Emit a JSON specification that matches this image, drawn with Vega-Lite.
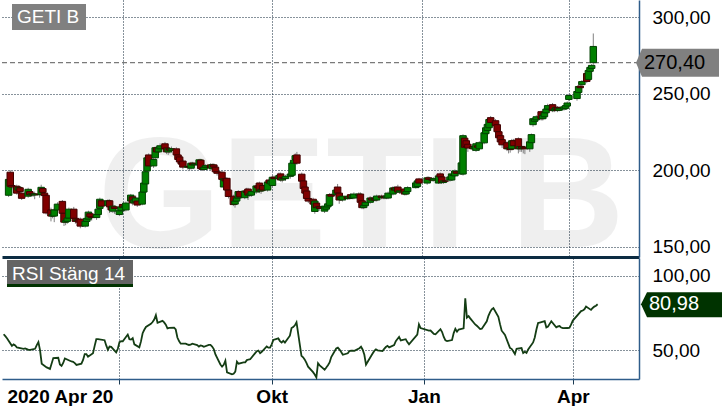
{
"padding": 0,
"background": "white",
"config": {"view": {"stroke": null}, "font": "Liberation Sans"},
"datasets": {"px": [
{"d":"2020-04-22","o":183.6,"h":195.5,"l":182.5,"c":194,"r":60.8},
{"d":"2020-04-23","o":198.7,"h":200,"l":188.5,"c":189.5,"r":59.5},
{"d":"2020-04-24","o":190,"h":191.5,"l":187.5,"c":189,"r":58.1},
{"d":"2020-04-27","o":189.5,"h":190.5,"l":184,"c":185,"r":53},
{"d":"2020-04-28","o":187,"h":190,"l":185.5,"c":188.8,"r":54},
{"d":"2020-04-29","o":188.5,"h":189.5,"l":185,"c":186,"r":53.3},
{"d":"2020-04-30","o":185,"h":186,"l":180.5,"c":181.6,"r":51.9},
{"d":"2020-05-04","o":183,"h":188.5,"l":182,"c":187.5,"r":51},
{"d":"2020-05-05","o":186,"h":187,"l":183,"c":184,"r":51.3},
{"d":"2020-05-06","o":184,"h":186.5,"l":183,"c":184.6,"r":50.8},
{"d":"2020-05-07","o":184.6,"h":185.5,"l":182.5,"c":183.8,"r":50.3},
{"d":"2020-05-08","o":183.8,"h":186,"l":181,"c":184.4,"r":50.3},
{"d":"2020-05-11","o":184.4,"h":185.5,"l":182,"c":184,"r":51},
{"d":"2020-05-12","o":184,"h":190.5,"l":183,"c":188.8,"r":53.5},
{"d":"2020-05-13","o":188,"h":189,"l":184.5,"c":185.5,"r":55.5},
{"d":"2020-05-14","o":185,"h":186,"l":182.5,"c":183.5,"r":50},
{"d":"2020-05-15","o":183.6,"h":184.5,"l":171,"c":172,"r":41},
{"d":"2020-05-18","o":174,"h":175.5,"l":166.5,"c":170,"r":38.5},
{"d":"2020-05-19","o":170,"h":172,"l":168.5,"c":171,"r":38},
{"d":"2020-05-20","o":170,"h":175,"l":166,"c":174,"r":37.4},
{"d":"2020-05-22","o":174,"h":179,"l":173,"c":177.8,"r":44.8},
{"d":"2020-05-25","o":179.6,"h":180.5,"l":171,"c":171.8,"r":45},
{"d":"2020-05-26","o":171.8,"h":172.5,"l":163.5,"c":166,"r":40.5},
{"d":"2020-05-27","o":166,"h":168,"l":164,"c":167,"r":39.5},
{"d":"2020-05-28","o":166.5,"h":170,"l":165,"c":168.7,"r":41.5},
{"d":"2020-05-29","o":168.7,"h":175.5,"l":167.5,"c":174.5,"r":44.5},
{"d":"2020-06-01","o":174.5,"h":176,"l":167.5,"c":168.5,"r":43},
{"d":"2020-06-02","o":168.5,"h":169.5,"l":165,"c":166.5,"r":42.5},
{"d":"2020-06-03","o":167,"h":168.5,"l":166,"c":167.5,"r":42.3},
{"d":"2020-06-04","o":167.5,"h":168.5,"l":163.5,"c":166,"r":41.4},
{"d":"2020-06-05","o":168,"h":169,"l":162,"c":163.4,"r":40.2},
{"d":"2020-06-08","o":163.4,"h":167.5,"l":162.5,"c":166.5,"r":41},
{"d":"2020-06-09","o":166.5,"h":169.5,"l":165.5,"c":168.5,"r":43.5},
{"d":"2020-06-10","o":168,"h":173.5,"l":167,"c":172.6,"r":47.5},
{"d":"2020-06-11","o":171.5,"h":172.5,"l":167.5,"c":169.5,"r":47.5},
{"d":"2020-06-12","o":169.5,"h":170.5,"l":167,"c":169,"r":45.7},
{"d":"2020-06-15","o":169,"h":172,"l":167.5,"c":171,"r":48},
{"d":"2020-06-16","o":171,"h":175.5,"l":170,"c":174.5,"r":53},
{"d":"2020-06-17","o":175,"h":182,"l":174,"c":181,"r":57.5},
{"d":"2020-06-18","o":180,"h":181,"l":175.5,"c":176.5,"r":57.5},
{"d":"2020-06-22","o":177,"h":181,"l":176,"c":180,"r":56.8},
{"d":"2020-06-23","o":180,"h":181,"l":172,"c":176,"r":53.3},
{"d":"2020-06-24","o":176,"h":177,"l":172.5,"c":174,"r":50.4},
{"d":"2020-06-25","o":173.2,"h":177.5,"l":172,"c":176.5,"r":52.5},
{"d":"2020-06-26","o":176,"h":177,"l":171.5,"c":175,"r":52.3},
{"d":"2020-06-29","o":171,"h":174.5,"l":170,"c":173.5,"r":48.6},
{"d":"2020-06-30","o":173.5,"h":177,"l":172.5,"c":176,"r":51},
{"d":"2020-07-01","o":177.6,"h":178.5,"l":174.5,"c":175.8,"r":55.5},
{"d":"2020-07-02","o":175.8,"h":177.5,"l":173,"c":176.5,"r":56.1},
{"d":"2020-07-03","o":174,"h":179.5,"l":173,"c":178.5,"r":56},
{"d":"2020-07-06","o":179.8,"h":184.5,"l":179,"c":183.7,"r":60.6},
{"d":"2020-07-07","o":182.6,"h":183.5,"l":177,"c":178.6,"r":57.5},
{"d":"2020-07-08","o":178.6,"h":181.5,"l":177.5,"c":180.5,"r":57.2},
{"d":"2020-07-09","o":179.2,"h":183.5,"l":178.5,"c":181.8,"r":58.2},
{"d":"2020-07-10","o":179.8,"h":180.5,"l":176,"c":177.2,"r":54},
{"d":"2020-07-13","o":177.8,"h":186.5,"l":177,"c":185.7,"r":52},
{"d":"2020-07-14","o":185.7,"h":192.5,"l":185,"c":191.6,"r":56},
{"d":"2020-07-15","o":191,"h":200,"l":190,"c":199,"r":61.5},
{"d":"2020-07-16","o":199.5,"h":209,"l":198.5,"c":208.1,"r":63.8},
{"d":"2020-07-17","o":210,"h":211,"l":202,"c":202.8,"r":65.7},
{"d":"2020-07-20","o":202.8,"h":208,"l":201.5,"c":207,"r":67.8},
{"d":"2020-07-21","o":208.1,"h":215.5,"l":207,"c":214.7,"r":69},
{"d":"2020-07-22","o":214.7,"h":216,"l":211,"c":212,"r":70.7},
{"d":"2020-07-23","o":212,"h":216,"l":211,"c":214.7,"r":73.6},
{"d":"2020-07-24","o":214,"h":217.5,"l":213,"c":216,"r":68.5},
{"d":"2020-07-27","o":217.3,"h":218.5,"l":212,"c":214,"r":69.8},
{"d":"2020-07-28","o":214.6,"h":215.5,"l":210.5,"c":212,"r":68.8},
{"d":"2020-07-29","o":212,"h":215,"l":210,"c":214,"r":67.2},
{"d":"2020-07-30","o":214,"h":215,"l":211,"c":213,"r":64.8},
{"d":"2020-07-31","o":213,"h":215.5,"l":211.5,"c":214,"r":65.1},
{"d":"2020-08-03","o":214,"h":215,"l":209,"c":210,"r":65.3},
{"d":"2020-08-04","o":210,"h":211,"l":205,"c":207,"r":64},
{"d":"2020-08-05","o":208.7,"h":209.5,"l":204.5,"c":205.4,"r":58.6},
{"d":"2020-08-06","o":205.4,"h":206.5,"l":202.5,"c":204,"r":56.2},
{"d":"2020-08-07","o":206,"h":207,"l":200.5,"c":202,"r":54.5},
{"d":"2020-08-10","o":202,"h":204,"l":200.5,"c":202.5,"r":54.5},
{"d":"2020-08-11","o":202.5,"h":203.5,"l":200,"c":202,"r":54},
{"d":"2020-08-12","o":201.3,"h":205.5,"l":200.5,"c":204.6,"r":53.6},
{"d":"2020-08-13","o":204.6,"h":205.5,"l":202,"c":203.5,"r":53.8},
{"d":"2020-08-14","o":203.5,"h":205,"l":202,"c":204,"r":54.5},
{"d":"2020-08-17","o":203.5,"h":207.5,"l":202.5,"c":206.8,"r":53.5},
{"d":"2020-08-18","o":206.6,"h":207.5,"l":200,"c":201,"r":52.5},
{"d":"2020-08-19","o":201.5,"h":202.5,"l":199.5,"c":200.5,"r":53.3},
{"d":"2020-08-20","o":200.5,"h":203,"l":199.5,"c":202,"r":53},
{"d":"2020-08-21","o":202,"h":204,"l":200.5,"c":203,"r":52.4},
{"d":"2020-08-24","o":203.5,"h":204.5,"l":200.5,"c":201.5,"r":53.6},
{"d":"2020-08-25","o":200.9,"h":204.5,"l":200,"c":203.5,"r":53.6},
{"d":"2020-08-26","o":203.5,"h":204.5,"l":201,"c":202,"r":52.5},
{"d":"2020-08-27","o":202,"h":203,"l":198,"c":199,"r":50.8},
{"d":"2020-08-28","o":199,"h":200,"l":196.5,"c":198,"r":47.2},
{"d":"2020-08-31","o":198.7,"h":199.5,"l":193,"c":194,"r":40.5},
{"d":"2020-09-01","o":189,"h":195,"l":187.5,"c":194.3,"r":39},
{"d":"2020-09-02","o":194.3,"h":195.5,"l":192,"c":193,"r":40.3},
{"d":"2020-09-03","o":194.7,"h":195.5,"l":186,"c":187,"r":43},
{"d":"2020-09-04","o":187,"h":188,"l":181.5,"c":182.8,"r":35.2},
{"d":"2020-09-07","o":183,"h":184,"l":176.5,"c":177.5,"r":33.9},
{"d":"2020-09-08","o":177.8,"h":180.5,"l":175.5,"c":179.8,"r":34.2},
{"d":"2020-09-09","o":179.8,"h":183,"l":178.5,"c":181.8,"r":35.7},
{"d":"2020-09-10","o":181.8,"h":187,"l":181,"c":186,"r":42.4},
{"d":"2020-09-11","o":186,"h":186.5,"l":181,"c":182.5,"r":41},
{"d":"2020-09-14","o":182,"h":187.5,"l":181,"c":186.4,"r":41.9},
{"d":"2020-09-15","o":186.4,"h":188.5,"l":184.5,"c":185.5,"r":41.9},
{"d":"2020-09-16","o":187.7,"h":188.5,"l":180.5,"c":183.7,"r":43.4},
{"d":"2020-09-17","o":183.7,"h":185.5,"l":182.5,"c":184.5,"r":43.8},
{"d":"2020-09-18","o":183.7,"h":187,"l":182.5,"c":186,"r":44},
{"d":"2020-09-21","o":185.7,"h":190.5,"l":184.5,"c":189.7,"r":48.1},
{"d":"2020-09-22","o":189.7,"h":192,"l":187.5,"c":188.5,"r":49.4},
{"d":"2020-09-23","o":191.6,"h":192.5,"l":185,"c":186.4,"r":49.8},
{"d":"2020-09-24","o":186.4,"h":188.5,"l":184.5,"c":187.5,"r":48.1},
{"d":"2020-09-25","o":190,"h":191,"l":186,"c":187,"r":49},
{"d":"2020-09-28","o":187,"h":193.5,"l":186,"c":192.3,"r":52.6},
{"d":"2020-09-29","o":193.6,"h":194.5,"l":190.5,"c":191.6,"r":51.8},
{"d":"2020-09-30","o":191,"h":194,"l":190,"c":193,"r":51.8},
{"d":"2020-10-01","o":190,"h":197,"l":189,"c":195.4,"r":54},
{"d":"2020-10-02","o":195.4,"h":196.5,"l":193.5,"c":194.5,"r":57},
{"d":"2020-10-05","o":194.5,"h":198.5,"l":193.5,"c":196.5,"r":58},
{"d":"2020-10-06","o":197.6,"h":198.5,"l":192.5,"c":193.6,"r":56.2},
{"d":"2020-10-07","o":193.6,"h":196,"l":192,"c":195,"r":55.2},
{"d":"2020-10-08","o":195,"h":196.5,"l":193.5,"c":194.5,"r":56.4},
{"d":"2020-10-09","o":194.5,"h":197,"l":193,"c":196,"r":55.2},
{"d":"2020-10-12","o":196,"h":198.5,"l":194.5,"c":197.5,"r":59.8},
{"d":"2020-10-13","o":196.7,"h":205.5,"l":195.5,"c":204.6,"r":65},
{"d":"2020-10-14","o":204.6,"h":208,"l":203.5,"c":206.5,"r":65.6},
{"d":"2020-10-15","o":207,"h":211,"l":206,"c":209.5,"r":66.8},
{"d":"2020-10-16","o":210,"h":212,"l":203.5,"c":204.6,"r":68.8},
{"d":"2020-10-19","o":197.4,"h":198.5,"l":191.5,"c":192.8,"r":46.3},
{"d":"2020-10-20","o":193,"h":194,"l":187,"c":188,"r":45.3},
{"d":"2020-10-21","o":189,"h":190,"l":183.5,"c":185,"r":43.7},
{"d":"2020-10-22","o":186.4,"h":187.5,"l":180.5,"c":181.5,"r":41.5},
{"d":"2020-10-23","o":181.5,"h":182.5,"l":178.5,"c":179.8,"r":39},
{"d":"2020-10-26","o":181,"h":182,"l":176,"c":177.8,"r":35.3},
{"d":"2020-10-27","o":173,"h":180.5,"l":171.5,"c":179.8,"r":33.7},
{"d":"2020-10-28","o":178.5,"h":179.5,"l":174,"c":175.5,"r":31.8},
{"d":"2020-10-29","o":175.5,"h":177,"l":173,"c":176,"r":41.3},
{"d":"2020-10-30","o":176,"h":177,"l":173.5,"c":175,"r":39.9},
{"d":"2020-11-02","o":173.2,"h":177.5,"l":172,"c":176.5,"r":37},
{"d":"2020-11-03","o":174.5,"h":177,"l":173.5,"c":176,"r":38.4},
{"d":"2020-11-04","o":176,"h":179,"l":175,"c":178,"r":39.9},
{"d":"2020-11-05","o":177,"h":185,"l":176,"c":184,"r":41.8},
{"d":"2020-11-06","o":184,"h":185,"l":182,"c":183,"r":45.5},
{"d":"2020-11-09","o":184,"h":188,"l":183,"c":187,"r":51.2},
{"d":"2020-11-10","o":189,"h":191,"l":184,"c":185,"r":51.8},
{"d":"2020-11-11","o":185,"h":186,"l":178,"c":180.5,"r":50.5},
{"d":"2020-11-12","o":181,"h":183.5,"l":180,"c":182.5,"r":48.9},
{"d":"2020-11-13","o":180.5,"h":184,"l":179.5,"c":183,"r":47},
{"d":"2020-11-16","o":182.5,"h":183.5,"l":180.5,"c":181.5,"r":48},
{"d":"2020-11-17","o":181.5,"h":184,"l":180.5,"c":183,"r":49.5},
{"d":"2020-11-18","o":184,"h":185,"l":181,"c":182,"r":49.8},
{"d":"2020-11-19","o":182,"h":184.5,"l":181,"c":183.5,"r":49.7},
{"d":"2020-11-20","o":181.8,"h":185.5,"l":181,"c":184.4,"r":49.6},
{"d":"2020-11-23","o":183.5,"h":185.5,"l":182.5,"c":184.4,"r":51.4},
{"d":"2020-11-24","o":184.4,"h":185.5,"l":178,"c":179,"r":52.4},
{"d":"2020-11-25","o":180,"h":181,"l":174.5,"c":175.5,"r":50.4},
{"d":"2020-11-26","o":175.5,"h":178,"l":174.5,"c":177,"r":47},
{"d":"2020-11-27","o":176.8,"h":180,"l":175.5,"c":179,"r":40.4},
{"d":"2020-11-30","o":179,"h":183,"l":178,"c":181.8,"r":46},
{"d":"2020-12-01","o":181.8,"h":182.5,"l":179.5,"c":180.5,"r":47.8},
{"d":"2020-12-02","o":180.5,"h":182.5,"l":179.5,"c":181.5,"r":49.6},
{"d":"2020-12-03","o":181.5,"h":182.5,"l":179.5,"c":180.5,"r":50.6},
{"d":"2020-12-04","o":180.5,"h":184,"l":179.5,"c":183.1,"r":50},
{"d":"2020-12-07","o":183.1,"h":184,"l":181,"c":182,"r":49.5},
{"d":"2020-12-08","o":182,"h":183.5,"l":181,"c":182.8,"r":51},
{"d":"2020-12-09","o":182.8,"h":183.5,"l":181,"c":182,"r":52.2},
{"d":"2020-12-10","o":182,"h":184,"l":181,"c":183,"r":53},
{"d":"2020-12-11","o":181.8,"h":186,"l":181,"c":185,"r":52},
{"d":"2020-12-14","o":184.4,"h":189.5,"l":183.5,"c":188.4,"r":53.5},
{"d":"2020-12-15","o":188.4,"h":189.5,"l":186,"c":187,"r":56.2},
{"d":"2020-12-16","o":187,"h":189.5,"l":186,"c":188.5,"r":57.6},
{"d":"2020-12-17","o":189,"h":190.5,"l":185,"c":185.7,"r":59},
{"d":"2020-12-18","o":185.7,"h":187.5,"l":184.5,"c":186.5,"r":56.7},
{"d":"2020-12-21","o":187.7,"h":188.5,"l":183.5,"c":184.4,"r":57.5},
{"d":"2020-12-22","o":184.4,"h":187,"l":183.5,"c":186,"r":55.5},
{"d":"2020-12-23","o":186,"h":189.5,"l":185,"c":188.6,"r":54},
{"d":"2020-12-28","o":188.6,"h":192.5,"l":188,"c":191.7,"r":60.5},
{"d":"2020-12-29","o":189.3,"h":194,"l":188.5,"c":193,"r":67.5},
{"d":"2020-12-30","o":194.3,"h":195,"l":190.5,"c":191.6,"r":65},
{"d":"2021-01-04","o":191.6,"h":196,"l":190.5,"c":195,"r":63.2},
{"d":"2021-01-05","o":195,"h":196,"l":193,"c":194,"r":63.3},
{"d":"2021-01-07","o":194,"h":195,"l":192.5,"c":193.5,"r":61},
{"d":"2021-01-08","o":193.5,"h":195.5,"l":192.5,"c":194.5,"r":60.8},
{"d":"2021-01-11","o":191.6,"h":197,"l":191,"c":196.3,"r":64.2},
{"d":"2021-01-12","o":197.6,"h":198.5,"l":194.5,"c":195.6,"r":62.3},
{"d":"2021-01-13","o":195.6,"h":196.5,"l":191,"c":192,"r":59},
{"d":"2021-01-14","o":192,"h":194,"l":191,"c":193,"r":56.7},
{"d":"2021-01-15","o":193,"h":194,"l":191.5,"c":192.8,"r":56.2},
{"d":"2021-01-18","o":193.6,"h":196.5,"l":192.5,"c":195.6,"r":56.9},
{"d":"2021-01-19","o":193.6,"h":198.5,"l":193,"c":197.6,"r":61.6},
{"d":"2021-01-20","o":196.5,"h":198,"l":195.5,"c":197,"r":64.4},
{"d":"2021-01-21","o":196.3,"h":200.5,"l":195.5,"c":199.5,"r":62.5},
{"d":"2021-01-22","o":199,"h":200,"l":197,"c":198,"r":64},
{"d":"2021-01-25","o":197.6,"h":205.5,"l":197,"c":204.8,"r":64.8},
{"d":"2021-01-26","o":197.5,"h":223.5,"l":196.5,"c":222.6,"r":85},
{"d":"2021-01-27","o":221,"h":222,"l":213.5,"c":215,"r":72},
{"d":"2021-01-28","o":219.3,"h":220.5,"l":214,"c":215.5,"r":73},
{"d":"2021-01-29","o":217,"h":218,"l":212,"c":214.5,"r":71.5},
{"d":"2021-02-01","o":215.5,"h":216.5,"l":212.5,"c":214,"r":67.4},
{"d":"2021-02-02","o":214,"h":216.5,"l":213,"c":215.3,"r":66.5},
{"d":"2021-02-03","o":213,"h":218.5,"l":212,"c":217.3,"r":65.5},
{"d":"2021-02-04","o":216,"h":217,"l":213.5,"c":215,"r":64.3},
{"d":"2021-02-05","o":214,"h":219,"l":213,"c":218,"r":64.5},
{"d":"2021-02-08","o":217.9,"h":225.5,"l":217,"c":224.5,"r":69.5},
{"d":"2021-02-09","o":223.9,"h":228.5,"l":223,"c":227.8,"r":73.2},
{"d":"2021-02-10","o":226,"h":231,"l":225,"c":230,"r":75.7},
{"d":"2021-02-11","o":227.8,"h":234,"l":227,"c":233.2,"r":77.6},
{"d":"2021-02-12","o":234.4,"h":235.5,"l":230.5,"c":231.2,"r":78.4},
{"d":"2021-02-15","o":232.4,"h":233.5,"l":228,"c":229.1,"r":72.5},
{"d":"2021-02-16","o":229.8,"h":230.5,"l":224,"c":225.2,"r":67.6},
{"d":"2021-02-17","o":225.2,"h":226,"l":220,"c":221.2,"r":63.2},
{"d":"2021-02-18","o":222.6,"h":223.5,"l":217.5,"c":218.5,"r":61.8},
{"d":"2021-02-19","o":220,"h":221,"l":214.5,"c":216.6,"r":60.3},
{"d":"2021-02-22","o":218,"h":219,"l":212.5,"c":214,"r":51.6},
{"d":"2021-02-23","o":214,"h":216,"l":211,"c":214.5,"r":51},
{"d":"2021-02-24","o":214.5,"h":215.5,"l":211.5,"c":213.5,"r":49.3},
{"d":"2021-02-25","o":214,"h":220.5,"l":213,"c":219.3,"r":47.5},
{"d":"2021-02-26","o":219.3,"h":220.5,"l":214,"c":216,"r":51},
{"d":"2021-03-01","o":220.6,"h":221.5,"l":211,"c":214,"r":51.5},
{"d":"2021-03-02","o":214,"h":216.5,"l":212,"c":215.5,"r":48.2},
{"d":"2021-03-03","o":215.5,"h":216.5,"l":212,"c":214.2,"r":49},
{"d":"2021-03-04","o":214.2,"h":216,"l":211,"c":215,"r":48.3},
{"d":"2021-03-05","o":215,"h":216,"l":210.5,"c":214,"r":50.6},
{"d":"2021-03-08","o":214,"h":219.5,"l":212,"c":218.6,"r":55.3},
{"d":"2021-03-09","o":218,"h":224,"l":217,"c":223.3,"r":58.6},
{"d":"2021-03-10","o":229.8,"h":234.5,"l":228.5,"c":233.7,"r":64},
{"d":"2021-03-11","o":232,"h":235,"l":231,"c":233.5,"r":68.4},
{"d":"2021-03-12","o":233,"h":236,"l":232,"c":235,"r":68.7},
{"d":"2021-03-15","o":238.3,"h":239,"l":232.5,"c":233.7,"r":69.6},
{"d":"2021-03-16","o":233.7,"h":237,"l":232.5,"c":236,"r":65.4},
{"d":"2021-03-17","o":235,"h":238.5,"l":234,"c":237.6,"r":66},
{"d":"2021-03-18","o":237.6,"h":241,"l":236.5,"c":240,"r":67.8},
{"d":"2021-03-19","o":240,"h":243.5,"l":239,"c":242.3,"r":69.6},
{"d":"2021-03-22","o":242.9,"h":244,"l":238,"c":239,"r":65.5},
{"d":"2021-03-23","o":239,"h":241,"l":238,"c":240,"r":66.1},
{"d":"2021-03-24","o":240,"h":242,"l":239,"c":241,"r":66.3},
{"d":"2021-03-25","o":241.2,"h":242,"l":238,"c":239.2,"r":65.3},
{"d":"2021-03-26","o":239.2,"h":241.5,"l":238.5,"c":240.5,"r":64.9},
{"d":"2021-03-29","o":240,"h":242.5,"l":239,"c":241.5,"r":65},
{"d":"2021-03-30","o":240.5,"h":243.5,"l":239.5,"c":242.3,"r":65.2},
{"d":"2021-03-31","o":242,"h":245,"l":241,"c":244,"r":67.4},
{"d":"2021-04-01","o":246.3,"h":250,"l":245,"c":248.9,"r":70},
{"d":"2021-04-06","o":246.9,"h":253,"l":245.5,"c":251.5,"r":76.4},
{"d":"2021-04-07","o":250.9,"h":256,"l":250,"c":254.8,"r":76.8},
{"d":"2021-04-08","o":255,"h":256,"l":253,"c":254,"r":77.6},
{"d":"2021-04-09","o":256,"h":259,"l":255,"c":258,"r":79.4},
{"d":"2021-04-12","o":263.3,"h":264,"l":257,"c":258.1,"r":77.2},
{"d":"2021-04-13","o":259.4,"h":266,"l":258.5,"c":265.3,"r":78.5},
{"d":"2021-04-14","o":264.7,"h":268.5,"l":263.5,"c":267.3,"r":79.4},
{"d":"2021-04-15","o":266.6,"h":269.5,"l":265.5,"c":268.6,"r":80},
{"d":"2021-04-16","o":270.4,"h":289.5,"l":269,"c":281,"r":80.98}
]},
"spacing": 1,
"bounds": "flush",
"resolve": {"scale": {"y": "independent"}},
"vconcat": [
{
"width": 637, "height": 257,
"layer": [
{
"data": {"values": [{}]},
"mark": {"type": "text", "text": "GETI B", "fontSize": 158, "fontWeight": "bold", "fill": "#000000", "opacity": 0.06, "align": "center", "baseline": "alphabetic"},
"encoding": {
"x": {"datum": {"year": 2020, "month": 11, "date": 24, "hours": 14}, "type": "temporal",
"scale": {"domain": [{"year": 2020, "month": 4, "date": 21}, {"year": 2021, "month": 5, "date": 11}]},
"axis": {"title": null, "values": [{"year": 2020, "month": 7, "date": 1}, {"year": 2020, "month": 10, "date": 1}, {"year": 2021, "month": 1, "date": 1}, {"year": 2021, "month": 4, "date": 1}],
"grid": true, "gridColor": "#0f2536", "gridDash": [1, 2], "gridWidth": 1, "labels": false, "ticks": false, "domain": true, "domainColor": "#0c2c42", "domainWidth": 3}},
"y": {"datum": 149.7, "type": "quantitative",
"scale": {"domain": [143.2, 311.4], "nice": false, "zero": false},
"axis": {"title": null, "orient": "right", "values": [150, 200, 250, 300], "labelExpr": "replace(format(datum.value, '.2f'), '.', ',')",
"grid": true, "gridColor": "#0f2536", "gridDash": [1, 2], "ticks": false, "tickSize": 0, "labelPadding": 13, "labelFontSize": 19, "labelColor": "#000000", "domainColor": "#2f5d8a", "domainWidth": 1.5}}
}
},
{
"data": {"values": [{}]},
"mark": {"type": "rule", "color": "#7a7a7a", "strokeDash": [5, 3], "strokeWidth": 1.2},
"encoding": {"y": {"datum": 270.4, "type": "quantitative"}}
},
{
"data": {"name": "px"},
"mark": {"type": "rule", "color": "#808080", "strokeWidth": 1, "clip": true},
"encoding": {
"x": {"field": "d", "type": "temporal"},
"y": {"field": "l", "type": "quantitative"},
"y2": {"field": "h"}
}
},
{
"data": {"name": "px"},
"mark": {"type": "bar", "width": 6.5, "strokeWidth": 1, "clip": true},
"encoding": {
"x": {"field": "d", "type": "temporal"},
"y": {"field": "o", "type": "quantitative"},
"y2": {"field": "c"},
"fill": {"condition": {"test": "datum.c >= datum.o", "value": "#008000"}, "value": "#800000"},
"stroke": {"condition": {"test": "datum.c >= datum.o", "value": "#004000"}, "value": "#400000"}
}
},
{
"data": {"values": [{}]},
"mark": {"type": "point", "shape": "M5,4 H79 V30 H5 Z", "size": 4, "filled": true, "fill": "#808080", "opacity": 1, "strokeWidth": 0},
"encoding": {"x": {"datum": {"year": 2020, "month": 4, "date": 21}, "type": "temporal"}, "y": {"datum": 311.4, "type": "quantitative"}}
},
{
"data": {"values": [{}]},
"mark": {"type": "text", "text": "GETI B", "fontSize": 19, "fill": "#ffffff", "align": "left", "baseline": "alphabetic", "dx": 10, "dy": 23},
"encoding": {"x": {"datum": {"year": 2020, "month": 4, "date": 21}, "type": "temporal"}, "y": {"datum": 311.4, "type": "quantitative"}}
},
{
"data": {"values": [{}]},
"mark": {"type": "point", "shape": "M2,0 L8,-14 L85,-14 L85,14 L8,14 Z", "size": 4, "filled": true, "fill": "#808080", "opacity": 1, "strokeWidth": 0},
"encoding": {"x": {"datum": {"year": 2021, "month": 5, "date": 11}, "type": "temporal"}, "y": {"datum": 270.4, "type": "quantitative"}}
},
{
"data": {"values": [{}]},
"mark": {"type": "text", "text": "270,40", "fontSize": 20, "fill": "#000000", "align": "left", "baseline": "middle", "dx": 10},
"encoding": {"x": {"datum": {"year": 2021, "month": 5, "date": 11}, "type": "temporal"}, "y": {"datum": 270.4, "type": "quantitative"}}
}
]
},
{
"width": 637, "height": 121,
"layer": [
{
"data": {"name": "px"},
"mark": {"type": "line", "color": "#143d14", "strokeWidth": 1.8},
"encoding": {
"x": {"field": "d", "type": "temporal",
"scale": {"domain": [{"year": 2020, "month": 4, "date": 21}, {"year": 2021, "month": 5, "date": 11}]},
"axis": {"title": null, "values": [{"year": 2020, "month": 4, "date": 24}, {"year": 2020, "month": 7, "date": 1}, {"year": 2020, "month": 10, "date": 1}, {"year": 2021, "month": 1, "date": 1}, {"year": 2021, "month": 4, "date": 1}],
"labelExpr": "(year(datum.value) == 2020 && month(datum.value) == 3) ? '2020 Apr 20' : month(datum.value) == 6 ? '' : month(datum.value) == 9 ? 'Okt' : month(datum.value) == 0 ? 'Jan' : 'Apr'",
"grid": true, "gridColor": "#0f2536", "gridDash": [1, 2],
"gridOpacity": {"condition": {"test": "year(datum.value) == 2020 && month(datum.value) == 3", "value": 0}, "value": 1},
"tickOpacity": {"condition": {"test": "year(datum.value) == 2020 && month(datum.value) == 3", "value": 0}, "value": 1},
"ticks": true, "tickColor": "#1b3a52", "tickSize": 5, "domainColor": "#2f5d8a", "domainWidth": 1.5,
"labelFontSize": 19, "labelFontWeight": "bold", "labelColor": "#000000", "labelFlush": 10, "labelOverlap": false, "labelPadding": 3}},
"y": {"field": "r", "type": "quantitative",
"scale": {"domain": [30.7, 112.1], "nice": false, "zero": false},
"axis": {"title": null, "orient": "right", "values": [50, 100], "labelExpr": "replace(format(datum.value, '.2f'), '.', ',')",
"grid": true, "gridColor": "#0f2536", "gridDash": [1, 2], "ticks": false, "tickSize": 0, "labelPadding": 13, "labelFontSize": 19, "labelColor": "#000000", "domainColor": "#2f5d8a", "domainWidth": 1.5}}
}
},
{
"data": {"values": [{}]},
"mark": {"type": "point", "shape": "M5,2 H131 V26 H5 Z", "size": 4, "filled": true, "fill": "#646464", "opacity": 1, "strokeWidth": 0},
"encoding": {"x": {"datum": {"year": 2020, "month": 4, "date": 21}, "type": "temporal"}, "y": {"datum": 112.1, "type": "quantitative"}}
},
{
"data": {"values": [{}]},
"mark": {"type": "point", "shape": "M5,26 H131 V29 H5 Z", "size": 4, "filled": true, "fill": "#003300", "opacity": 1, "strokeWidth": 0},
"encoding": {"x": {"datum": {"year": 2020, "month": 4, "date": 21}, "type": "temporal"}, "y": {"datum": 112.1, "type": "quantitative"}}
},
{
"data": {"values": [{}]},
"mark": {"type": "text", "text": "RSI Stäng 14", "fontSize": 19, "fill": "#ffffff", "align": "left", "baseline": "alphabetic", "dx": 10, "dy": 22},
"encoding": {"x": {"datum": {"year": 2020, "month": 4, "date": 21}, "type": "temporal"}, "y": {"datum": 112.1, "type": "quantitative"}}
},
{
"data": {"values": [{}]},
"mark": {"type": "point", "shape": "M2,0 L8,-12 L85,-12 L85,13 L8,13 Z", "size": 4, "filled": true, "fill": "#003300", "opacity": 1, "strokeWidth": 0},
"encoding": {"x": {"datum": {"year": 2021, "month": 5, "date": 11}, "type": "temporal"}, "y": {"datum": 80.98, "type": "quantitative"}}
},
{
"data": {"values": [{}]},
"mark": {"type": "text", "text": "80,98", "fontSize": 20, "fill": "#ffffff", "align": "left", "baseline": "middle", "dx": 10},
"encoding": {"x": {"datum": {"year": 2021, "month": 5, "date": 11}, "type": "temporal"}, "y": {"datum": 80.98, "type": "quantitative"}}
}
]
}
]
}
